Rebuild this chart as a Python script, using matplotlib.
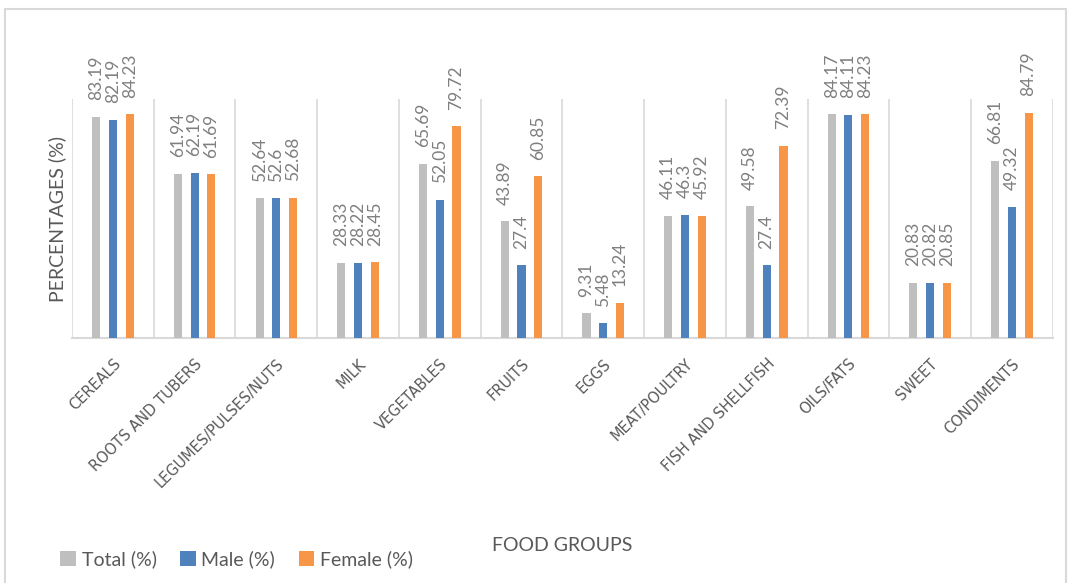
import numpy as np
import matplotlib
matplotlib.use('Agg')
import matplotlib.pyplot as plt
from matplotlib.patches import Rectangle

plt.rcParams['font.family'] = ['Lato', 'DejaVu Sans']

groups = ['CEREALS', 'ROOTS AND TUBERS', 'LEGUMES/PULSES/NUTS', 'MILK', 'VEGETABLES',
          'FRUITS', 'EGGS', 'MEAT/POULTRY', 'FISH AND SHELLFISH', 'OILS/FATS',
          'SWEET', 'CONDIMENTS']
total = [83.19, 61.94, 52.64, 28.33, 65.69, 43.89, 9.31, 46.11, 49.58, 84.17, 20.83, 66.81]
male = [82.19, 62.19, 52.6, 28.22, 52.05, 27.4, 5.48, 46.3, 27.4, 84.11, 20.82, 49.32]
female = [84.23, 61.69, 52.68, 28.45, 79.72, 60.85, 13.24, 45.92, 72.39, 84.23, 20.85, 84.79]
series_names = ['Total (%)', 'Male (%)', 'Female (%)']
colors = ['#BFBFBF', '#4F81BD', '#F79646']

fig = plt.figure(figsize=(10.72, 5.83), dpi=100)
ax = fig.add_axes([0.0672, 0.4202, 0.9148, 0.41])

x = np.arange(len(groups))
step = 0.205
width = 0.1
for i, (vals, name, c) in enumerate(zip([total, male, female], series_names, colors)):
    pos = x + (i - 1) * step
    ax.bar(pos, vals, width, color=c, label=name, zorder=3)
    for px, v in zip(pos, vals):
        ax.annotate('%g' % v, (px, v), xytext=(0, 12), textcoords='offset points',
                    rotation=90, ha='center', va='bottom', fontsize=12.5, color='#7F7F7F')

ax.set_xlim(-0.5, len(groups) - 0.5)
ax.set_ylim(0, 90)
ax.set_yticks([])
for b in np.arange(-0.5, len(groups), 1.0):
    ax.axvline(b, color='#D9D9D9', lw=1.2, zorder=1)
for s in ['top', 'right', 'left']:
    ax.spines[s].set_visible(False)
ax.spines['bottom'].set_color('#D9D9D9')
ax.spines['bottom'].set_linewidth(1.5)

ax.set_xticks(x)
ax.set_xticklabels(groups, rotation=45, ha='right', rotation_mode='anchor')
for t in ax.get_xticklabels():
    t.set_fontfamily(['DejaVu Sans'])
    t.set_fontsize(10.5)
    t.set_color('#595959')
ax.tick_params(axis='x', length=0, pad=13)

ax.set_ylabel('PERCENTAGES (%)', fontsize=14, color='#595959', labelpad=4)
fig.text(0.524, 0.065, 'FOOD GROUPS', fontsize=14, color='#595959', ha='center', va='center')

fig.legend(loc='center left', bbox_to_anchor=(0.04, 0.04), ncol=3, frameon=False,
           fontsize=14, handlelength=0.8, handleheight=0.8, handletextpad=0.3,
           columnspacing=1.2, labelcolor='#595959')

fig.patches.append(Rectangle((5 / 1072, -0.05), 1061 / 1072, 1.05 - 9 / 583,
                             transform=fig.transFigure, fill=False,
                             edgecolor='#D9D9D9', lw=1.5))

fig.savefig('out.png', dpi=100)
